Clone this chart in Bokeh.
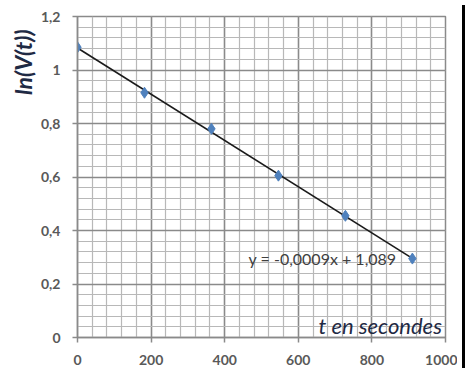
import numpy as np
from bokeh.plotting import figure
from bokeh.models import (FixedTicker, Label, Range1d, Div)
from bokeh.layouts import row
from bokeh.embed import file_html
from bokeh.resources import INLINE

# ---- data ----
t_seconds = [0, 182, 364, 546, 728, 910]
ln_v = [1.085, 0.915, 0.78, 0.605, 0.455, 0.295]
x_ticks = [0, 200, 400, 600, 800, 1000]
x_tick_labels = ["0", "200", "400", "600", "800", "1000"]
y_ticks = [0, 0.2, 0.4, 0.6, 0.8, 1.0, 1.2]
y_tick_labels = ["0", "0,2", "0,4", "0,6", "0,8", "1", "1,2"]
x_minor_step = 40
y_minor_step = 0.04
equation_text = "y = -0,0009x + 1,089"
x_title = "t en secondes"
y_title = "ln(V(t))"

# trend line from regression
slope, intercept = np.polyfit(t_seconds, ln_v, 1)
trend_x = [min(t_seconds), max(t_seconds)]
trend_y = [slope * v + intercept for v in trend_x]

x_minor = [i * x_minor_step for i in range(int(x_ticks[-1] / x_minor_step) + 1)]
y_minor = [round(i * y_minor_step, 4) for i in range(int(round(y_ticks[-1] / y_minor_step)) + 1)]

p = figure(width=457, height=368, output_backend="svg", toolbar_location=None,
           x_range=Range1d(x_ticks[0], x_ticks[-1]), y_range=Range1d(y_ticks[0], y_ticks[-1]),
           min_border_left=77, min_border_right=12, min_border_top=16, min_border_bottom=31,
           title=y_title, title_location="left")
p.background_fill_color = "white"
p.border_fill_color = "white"
p.outline_line_color = "#8a8a8a"
p.outline_line_width = 1.5

p.title.align = "right"
p.title.offset = 13
p.title.standoff = 2
p.title.text_font = "Lato"
p.title.text_font_size = "23px"
p.title.text_font_style = "bold italic"
p.title.text_color = "#1f2a44"

p.xaxis.ticker = FixedTicker(ticks=x_ticks, minor_ticks=x_minor)
p.yaxis.ticker = FixedTicker(ticks=y_ticks, minor_ticks=y_minor)
p.xaxis.major_label_overrides = {k: v for k, v in zip(x_ticks, x_tick_labels)}
p.yaxis.major_label_overrides = {k: v for k, v in zip(y_ticks, y_tick_labels)}

for ax in (p.xaxis, p.yaxis):
    ax.axis_line_color = "#8a8a8a"
    ax.axis_line_width = 1.5
    ax.major_tick_line_color = "#8a8a8a"
    ax.major_tick_line_width = 1.5
    ax.major_tick_out = 5
    ax.major_tick_in = 0
    ax.minor_tick_line_color = None
    ax.major_label_text_font = "Lato"
    ax.major_label_text_font_size = "14px"
    ax.major_label_text_color = "#595959"
    ax.major_label_text_font_style = "bold"
p.xaxis.major_label_standoff = 12
p.yaxis.major_label_standoff = 12

for g in (p.xgrid, p.ygrid):
    g.grid_line_color = "#8a8a8a"
    g.grid_line_width = 1.5
    g.minor_grid_line_color = "#b8b8b8"
    g.minor_grid_line_width = 1.2

p.line(trend_x, trend_y, line_color="#1a1a1a", line_width=1.6)
p.scatter(t_seconds, ln_v, marker="diamond", size=11,
          fill_color="#4F81BD", line_color="#4F81BD")

p.add_layout(Label(x=465, y=0.295, text=equation_text, text_font="Lato",
                   text_font_size="16px", text_color="#404040",
                   text_align="left", text_baseline="middle"))
p.add_layout(Label(x=655, y=0.045, text=x_title, text_font="Lato",
                   text_font_size="22px", text_font_style="italic",
                   text_color="#1f2a44", text_align="left", text_baseline="middle"))

strip = Div(text="", width=8, height=368, styles={"background-color": "black"})
layout = row(p, strip, spacing=0)

open("out.html", "w").write(file_html(layout, INLINE))
